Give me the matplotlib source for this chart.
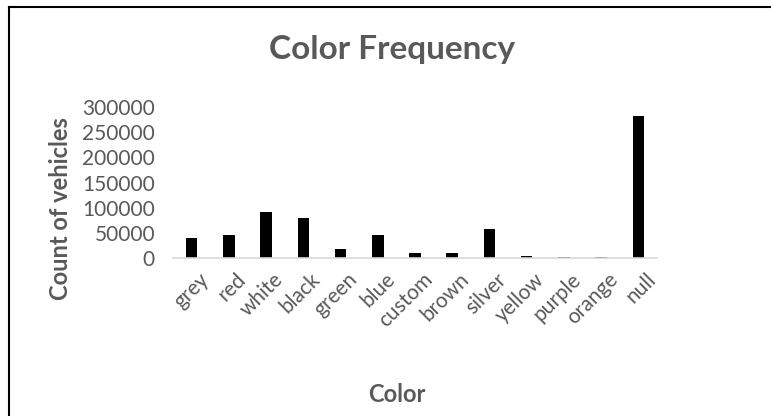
import numpy as np
import matplotlib
matplotlib.use('Agg')
import matplotlib.pyplot as plt
import matplotlib.transforms as mtrans
from matplotlib.lines import Line2D

colors = ['grey', 'red', 'white', 'black', 'green', 'blue', 'custom',
          'brown', 'silver', 'yellow', 'purple', 'orange', 'null']
counts = [40000, 46000, 92000, 79000, 17000, 45000, 9400,
          9400, 57000, 4000, 1000, 1500, 283000]
yticks = [0, 50000, 100000, 150000, 200000, 250000, 300000]

plt.rcParams['font.family'] = ['Lato', 'DejaVu Sans']
txt = '#595959'

fig = plt.figure(figsize=(7.71, 4.16), dpi=100)
ax = fig.add_axes([173/771, 1 - 258/416, 484/771, 151/416])

x = np.arange(len(colors))
ax.bar(x, counts, width=0.31, color='black')
ax.set_xlim(-0.5, len(colors) - 0.5)
ax.set_ylim(0, 300000)
ax.set_yticks(yticks)
ax.set_yticklabels([str(v) for v in yticks], fontsize=15, color=txt)
ax.set_xticks(x)
ax.set_xticklabels(colors, rotation=45, ha='right', rotation_mode='anchor',
                   fontsize=15, color=txt)
ax.tick_params(axis='y', length=0, pad=13)
ax.tick_params(axis='x', length=0, pad=8)
# nudge the slanted labels a little to the right, like the original
shift = mtrans.ScaledTranslation(7/100, 0, fig.dpi_scale_trans)
for lbl in ax.get_xticklabels():
    lbl.set_transform(lbl.get_transform() + shift)
for s in ['top', 'right', 'left']:
    ax.spines[s].set_visible(False)
ax.spines['bottom'].set_color('#d9d9d9')
ax.spines['bottom'].set_linewidth(1.2)

fig.text(392/771, 1 - 49/416, 'Color Frequency', ha='center', va='center',
         fontsize=24, fontweight='bold', color=txt)
fig.text(397/771, 1 - 394/416, 'Color', ha='center', va='center',
         fontsize=17, fontweight='bold', color=txt)
fig.text(60/771, 1 - 209/416, 'Count of vehicles', ha='center', va='center',
         rotation=90, fontsize=17, fontweight='bold', color=txt)

# frame on the top and left edges only
fig.add_artist(Line2D([9/771, 9/771], [0, 1 - 7/416], color='black', lw=1.5))
fig.add_artist(Line2D([9/771, 1], [1 - 7/416, 1 - 7/416], color='black', lw=1.5))

fig.savefig('out.png', dpi=100)
